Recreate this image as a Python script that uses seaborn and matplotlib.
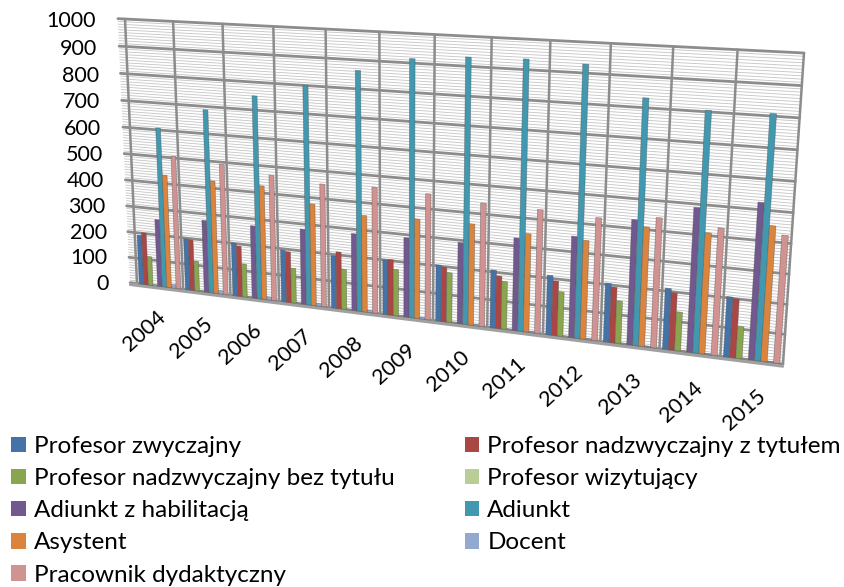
import numpy as np
import pandas as pd
import matplotlib
matplotlib.use("Agg")
import matplotlib.pyplot as plt
from matplotlib.patches import Patch
from matplotlib.transforms import Transform
import seaborn as sns

years = ["2004","2005","2006","2007","2008","2009","2010","2011","2012","2013","2014","2015"]
zwyczajny = [191,197,201,195,195,201,203,207,210,205,210,204]
nadzw_tyt = [202,195,192,191,211,204,198,188,193,194,197,200]
nadzw_bez = [112,116,126,131,149,170,180,171,157,148,134,109]
wizytujacy = [4,3,3,3,3,3,3,3,3,3,3,3]
adiunkt_hab = [259,275,274,281,284,289,292,328,354,430,489,524]
adiunkt = [607,688,751,801,864,915,931,935,929,832,805,808]
asystent = [432,427,426,377,354,360,362,347,344,409,409,452]
docent = [14,13,12,10,8,6,5,4,4,3,3,3]
pracownik = [506,492,468,453,459,453,438,434,425,444,429,425]

names = ["Profesor zwyczajny","Profesor nadzwyczajny z tytułem","Profesor nadzwyczajny bez tytułu",
         "Profesor wizytujący","Adiunkt z habilitacją","Adiunkt","Asystent","Docent","Pracownik dydaktyczny"]
series = [zwyczajny,nadzw_tyt,nadzw_bez,wizytujacy,adiunkt_hab,adiunkt,asystent,docent,pracownik]
colors = ["#4573A7","#AA4643","#89A54E","#B9CD96","#71588F","#4198AF","#DB843D","#93A9CF","#D19392"]
y_ticks = list(range(0,1001,100))

W,H = 845,587
sns.set_theme(style="white")
plt.rcParams['font.family'] = ['Lato','DejaVu Sans']

# homography: (category, value) -> display pixels (wall corners)
src = [(-0.5,0),(11.5,0),(11.5,1000),(-0.5,1000)]
dst = [(137,283.5),(783,364),(804,53),(125,19)]
A=[];b=[]
for (x,y),(u,v) in zip(src,dst):
    v=H-v
    A.append([x,y,1,0,0,0,-u*x,-u*y]);b.append(u)
    A.append([0,0,0,x,y,1,-v*x,-v*y]);b.append(v)
M=np.append(np.linalg.solve(np.array(A,float),np.array(b,float)),1).reshape(3,3)

class Wall(Transform):
    input_dims=2; output_dims=2; is_separable=False; has_inverse=False
    def transform_non_affine(self, values):
        p=np.column_stack([values,np.ones(len(values))])@M.T
        return p[:,:2]/p[:,2:3]
proj=Wall()

fig,ax=plt.subplots(figsize=(W/100,H/100),dpi=100)
ax.set_position([0,0,1,1])
df=pd.DataFrame({"year":np.repeat(years,len(names)),
                 "rank":names*len(years),
                 "value":np.array(series).T.ravel()})
sns.barplot(data=df,x="year",y="value",hue="rank",order=years,hue_order=names,palette=colors,
            width=0.9,gap=0,saturation=1,legend=False,ax=ax,errorbar=None,
            linewidth=0.5,edgecolor="#55555588",zorder=3)
for p in ax.patches:
    p.set_transform(proj); p.set_clip_on(False)

XL,XR=-0.65,11.5
for v in np.arange(0,1001,10):
    ax.plot([XL,XR],[v,v],transform=proj,color="#c4c4c4",lw=0.6,clip_on=False,zorder=1)
for v in y_ticks:
    ax.plot([XL,XR],[v,v],transform=proj,color="#8c8c8c",lw=2.0,clip_on=False,zorder=2)
for i in np.arange(-0.5,11.6,1):
    ax.plot([i,i],[0,1000],transform=proj,color="#8c8c8c",lw=1.8,clip_on=False,zorder=2)
ax.plot([XL,XR],[-8,-8],transform=proj,color="#a0a0a0",lw=2.0,clip_on=False,zorder=2)
ax.plot([XL,-0.5],[-8,0],transform=proj,color="#a0a0a0",lw=1,clip_on=False,zorder=2)
for v in y_ticks:
    ax.text(-1.12,v-14,str(v),transform=proj,ha="right",va="center",fontsize=15.5,color="black",clip_on=False)
for i,y in enumerate(years):
    ax.text(i-0.1+0.2*i/11,-85,y,transform=proj,rotation=42,rotation_mode="anchor",ha="right",va="top",
            fontsize=15.5,color="black",clip_on=False)
ax.set_axis_off()

order=[0,2,4,6,8,1,3,5,7]
handles=[Patch(facecolor=colors[k],edgecolor="none") for k in order]
labels=[names[k] for k in order]
fig.legend(handles,labels,ncol=2,loc="upper left",bbox_to_anchor=(0/W,1-(425)/H),frameon=False,
           fontsize=17.5,handlelength=0.6,handleheight=0.6,handletextpad=0.33,
           labelspacing=0.46,columnspacing=2.9,borderpad=0.45,borderaxespad=0,labelcolor="black")
fig.savefig("out.png",dpi=100,facecolor="white")
